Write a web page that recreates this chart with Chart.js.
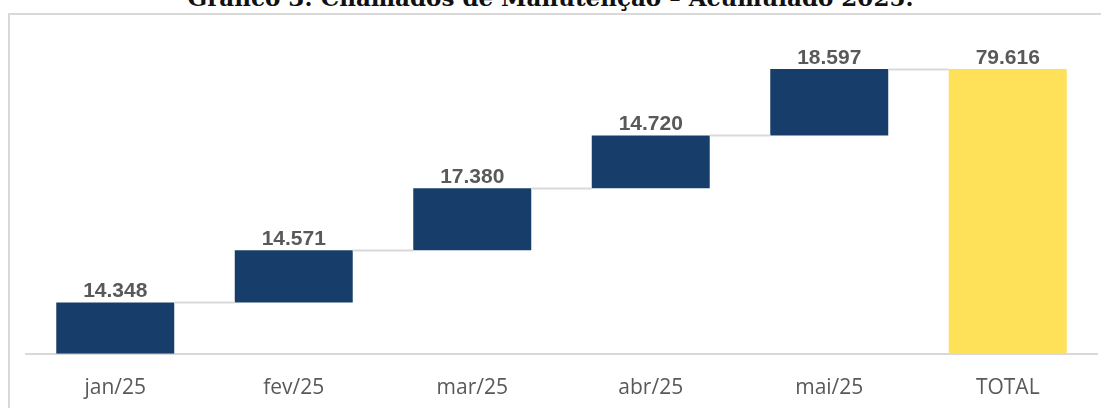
<!DOCTYPE html>
<html>
<head>
<meta charset="utf-8">
<script src="https://cdn.jsdelivr.net/npm/chart.js@4/dist/chart.umd.min.js"></script>
<style>
    html, body { margin: 0; padding: 0; background: #fff; overflow: hidden; }
    #wrap { position: relative; width: 1101px; height: 408px; overflow: hidden; }
    #frame { position: absolute; left: 8px; top: 13px; width: 1200px; height: 500px;
             border-left: 2px solid #d9d9d9; border-top: 2px solid #d9d9d9; box-sizing: border-box; }
    #title { position: absolute; left: 0; width: 1101px; top: -14px; text-align: center;
             font: bold 23px "DejaVu Serif", serif; line-height: 23px; color: #111; white-space: nowrap; }
    #chart { position: absolute; left: 0; top: 0; }
</style>
</head>
<body>
<div id="wrap">
    <div id="frame"></div>
    <div id="title">Gráfico 3: Chamados de Manutenção – Acumulado 2025.</div>
    <canvas id="chart" width="1101" height="431"></canvas>
</div>
<script>
"use strict";

// Chart data:
var categories = ['jan/25', 'fev/25', 'mar/25', 'abr/25', 'mai/25', 'TOTAL'];
var monthlyCalls = [14348, 14571, 17380, 14720, 18597];
var totalCalls = 79616;

var barColors = ['#173e6a', '#173e6a', '#173e6a', '#173e6a', '#173e6a', '#ffe159'];

// Build floating ranges for the waterfall:
var ranges = [];
var running = 0;
monthlyCalls.forEach(function (v) {
    ranges.push([running, running + v]);
    running += v;
});
ranges.push([0, totalCalls]);

var labelValues = monthlyCalls.concat([totalCalls]);

// Helper to format numbers pt-BR style (14.348):
var formatNumber = function formatNumber(n) {
    return String(n).replace(/\B(?=(\d{3})+(?!\d))/g, '.');
};

// Connector lines between bars + value labels on top:
var waterfallPlugin = {
    id: 'waterfall',
    afterDatasetsDraw: function (chart) {
        var ctx = chart.ctx;
        var meta = chart.getDatasetMeta(0);
        var yScale = chart.scales.y;

        ctx.save();
        ctx.strokeStyle = '#d9d9d9';
        ctx.lineWidth = 2;
        for (var i = 0; i < meta.data.length - 1; i++) {
            var a = meta.data[i];
            var b = meta.data[i + 1];
            var y = Math.round(yScale.getPixelForValue(ranges[i][1])) + 0.5;
            ctx.beginPath();
            ctx.moveTo(a.x + a.width / 2, y);
            ctx.lineTo(b.x - b.width / 2, y);
            ctx.stroke();
        }

        ctx.fillStyle = '#595959';
        ctx.font = 'bold 21px "Liberation Sans", Arial, sans-serif';
        ctx.textAlign = 'center';
        ctx.textBaseline = 'alphabetic';
        meta.data.forEach(function (bar, i) {
            var top = Math.min(bar.y, bar.base);
            ctx.fillText(formatNumber(labelValues[i]), bar.x, top - 5);
        });
        ctx.restore();
    }
};

var chart = new Chart(document.getElementById('chart').getContext('2d'), {
    type: 'bar',
    data: {
        labels: categories,
        datasets: [{
            data: ranges,
            backgroundColor: barColors,
            borderWidth: 0,
            borderSkipped: false,
            barPercentage: 0.661,
            categoryPercentage: 1
        }]
    },
    options: {
        responsive: false,
        animation: false,
        layout: { padding: { left: 26, right: 4, top: 30, bottom: 8 } },
        plugins: {
            legend: { display: false },
            tooltip: { enabled: false },
            title: { display: false }
        },
        scales: {
            x: {
                grid: { display: false, drawTicks: false },
                border: { display: true, color: '#d9d9d9', width: 2 },
                ticks: {
                    color: '#595959',
                    padding: 22,
                    font: { family: '"Open Sans", sans-serif', size: 21 }
                }
            },
            y: {
                display: false,
                min: 0,
                max: 90500
            }
        }
    },
    plugins: [waterfallPlugin]
});
</script>
</body>
</html>
